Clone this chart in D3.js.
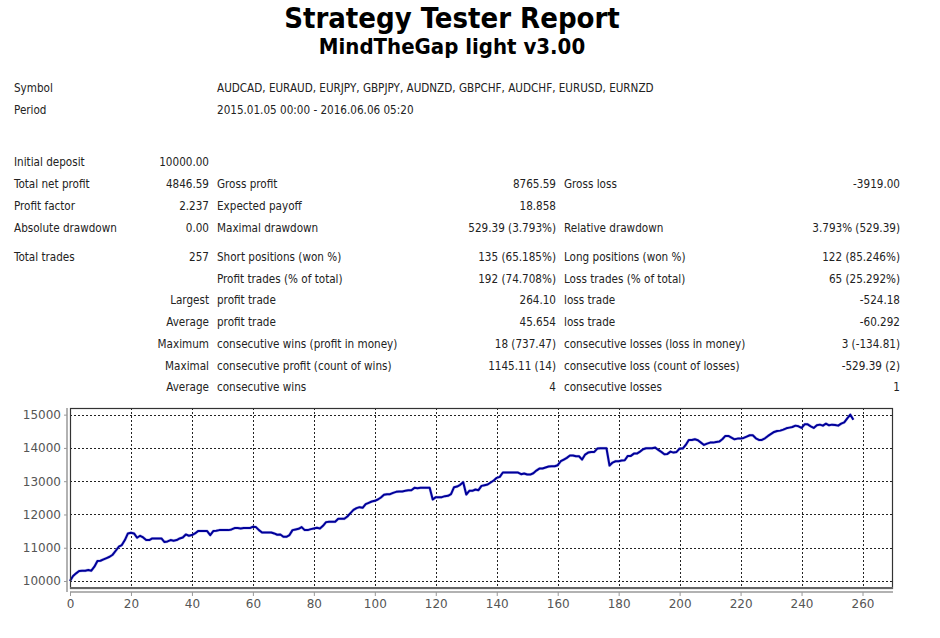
<!DOCTYPE html>
<html>
<head>
<meta charset="utf-8">
<script src="https://cdn.jsdelivr.net/npm/d3@7"></script>
<style>
  body { margin: 0; background: #fff; }
  .tbl text { font-family: "DejaVu Sans Condensed", "DejaVu Sans", sans-serif; font-size: 11.6px; fill: #222; }
  .axis text { font-family: "DejaVu Sans", sans-serif; font-size: 12px; fill: #555; }
  .grid line { stroke: #222; stroke-dasharray: 2,2; stroke-width: 1; }
</style>
</head>
<body>
<svg width="940" height="638"></svg>
<script>
// report header
var title = "Strategy Tester Report";
var subtitle = "MindTheGap light v3.00";

// symbol / period lines
var infoLabels = ["Symbol", "Period"];
var infoValues = ["AUDCAD, EURAUD, EURJPY, GBPJPY, AUDNZD, GBPCHF, AUDCHF, EURUSD, EURNZD",
                  "2015.01.05 00:00 - 2016.06.06 05:20"];

// statistics table, 6 columns per row
var statLabels1 = ["Initial deposit", "Total net profit", "Profit factor", "Absolute drawdown",
                   "Total trades", "", "", "", "", "", ""];
var statValues1 = ["10000.00", "4846.59", "2.237", "0.00", "257", "",
                   "Largest", "Average", "Maximum", "Maximal", "Average"];
var statLabels2 = ["", "Gross profit", "Expected payoff", "Maximal drawdown",
                   "Short positions (won %)", "Profit trades (% of total)", "profit trade", "profit trade",
                   "consecutive wins (profit in money)", "consecutive profit (count of wins)", "consecutive wins"];
var statValues2 = ["", "8765.59", "18.858", "529.39 (3.793%)", "135 (65.185%)", "192 (74.708%)",
                   "264.10", "45.654", "18 (737.47)", "1145.11 (14)", "4"];
var statLabels3 = ["", "Gross loss", "", "Relative drawdown", "Long positions (won %)", "Loss trades (% of total)",
                   "loss trade", "loss trade", "consecutive losses (loss in money)", "consecutive loss (count of losses)",
                   "consecutive losses"];
var statValues3 = ["", "-3919.00", "", "3.793% (529.39)", "122 (85.246%)", "65 (25.292%)",
                   "-524.18", "-60.292", "3 (-134.81)", "-529.39 (2)", "1"];

// balance curve, one value per trade
var balance = [
  10000,10150,10230,10300,10310,10310,10330,10310,10430,10600,
  10610,10650,10690,10730,10790,10910,11030,11080,11230,11430,
  11450,11430,11300,11360,11310,11230,11230,11280,11280,11280,
  11280,11170,11190,11230,11210,11230,11280,11310,11400,11360,
  11380,11430,11500,11500,11500,11500,11380,11500,11510,11530,
  11530,11530,11530,11550,11590,11590,11580,11590,11590,11590,
  11630,11620,11530,11460,11460,11460,11460,11430,11390,11400,
  11330,11330,11380,11530,11550,11570,11620,11530,11530,11560,
  11580,11600,11580,11660,11770,11780,11780,11780,11870,11870,
  11870,11940,12040,12140,12190,12220,12200,12310,12350,12390,
  12410,12450,12510,12590,12610,12610,12650,12680,12690,12690,
  12710,12730,12730,12800,12790,12800,12800,12800,12800,12450,
  12520,12520,12520,12550,12560,12610,12820,12840,12890,12970,
  12600,12710,12710,12750,12730,12860,12880,12900,12960,13020,
  13100,13130,13260,13260,13260,13260,13260,13260,13210,13230,
  13200,13200,13240,13320,13380,13380,13410,13440,13450,13450,
  13480,13600,13650,13700,13770,13770,13750,13750,13650,13800,
  13860,13880,13880,13980,13990,13990,13990,13470,13560,13600,
  13600,13620,13630,13760,13760,13830,13830,13890,13960,13990,
  13990,13990,14010,13940,13880,13810,13820,13890,13860,13880,
  13980,13980,14090,14240,14240,14260,14230,14160,14090,14130,
  14160,14160,14180,14190,14260,14360,14360,14310,14260,14280,
  14280,14300,14340,14380,14380,14290,14240,14240,14290,14360,
  14420,14480,14510,14520,14550,14590,14610,14630,14670,14650,
  14600,14710,14710,14650,14600,14680,14700,14670,14730,14680,
  14700,14690,14670,14730,14770,14890,15000,14846.59
];
var yTicks = [10000, 11000, 12000, 13000, 14000, 15000];
var xTicks = d3.range(0, 261, 20);

function draw() {
  var svg = d3.select("svg");
  var font = "'DejaVu Sans Condensed', 'DejaVu Sans', sans-serif";

  // titles
  svg.append("text")
    .attr("x", 452).attr("y", 28)
    .attr("text-anchor", "middle")
    .style("font-family", font)
    .style("font-weight", "bold").style("font-size", "29px")
    .text(title);
  svg.append("text")
    .attr("x", 452).attr("y", 54)
    .attr("text-anchor", "middle")
    .style("font-family", font)
    .style("font-weight", "bold").style("font-size", "22px")
    .text(subtitle);

  // table
  var tbl = svg.append("g").attr("class", "tbl");
  var colX = [14, 209, 217, 556, 564, 900];
  var anchors = ["start", "end", "start", "end", "start", "end"];

  infoLabels.forEach(function(d, i) {
    var yy = 92 + i * 22;
    tbl.append("text").attr("x", colX[0]).attr("y", yy).text(d);
    tbl.append("text").attr("x", colX[2]).attr("y", yy).text(infoValues[i]);
  });

  // row baselines, with a little gap before "Total trades"
  var rowY = statLabels1.map(function(d, i) {
    return i < 4 ? 166 + i * 22 : 261 + (i - 4) * 21.7;
  });

  var cols = [statLabels1, statValues1, statLabels2, statValues2, statLabels3, statValues3];
  cols.forEach(function(col, c) {
    col.forEach(function(txt, r) {
      if (!txt) return;
      tbl.append("text")
        .attr("x", colX[c]).attr("y", rowY[r])
        .attr("text-anchor", anchors[c])
        .text(txt);
    });
  });

  // chart
  var pLeft = 70, pRight = 893, pTop = 408, pBottom = 588;
  var x = d3.scaleLinear().domain([0, 270]).range([pLeft, pRight]);
  var y = d3.scaleLinear().domain([9790, 15200]).range([pBottom, pTop]);

  var grid = svg.append("g").attr("class", "grid");
  grid.selectAll(".hg").data(yTicks).enter().append("line")
    .attr("x1", pLeft).attr("x2", pRight)
    .attr("y1", function(d) { return Math.round(y(d)) + 0.5; })
    .attr("y2", function(d) { return Math.round(y(d)) + 0.5; });
  grid.selectAll(".vg").data(xTicks.filter(function(d) { return d > 0; })).enter().append("line")
    .attr("y1", pTop).attr("y2", pBottom)
    .attr("x1", function(d) { return Math.round(x(d)) + 0.5; })
    .attr("x2", function(d) { return Math.round(x(d)) + 0.5; });

  // balance line
  var line = d3.line()
    .x(function(d, i) { return x(i); })
    .y(function(d) { return y(d); });
  svg.append("path")
    .datum(balance)
    .attr("fill", "none")
    .attr("stroke", "#8c8ce6")
    .attr("stroke-width", 3)
    .attr("stroke-opacity", 0.5)
    .attr("stroke-linejoin", "round")
    .attr("d", line);
  svg.append("path")
    .datum(balance)
    .attr("fill", "none")
    .attr("stroke", "#00009a")
    .attr("stroke-width", 2)
    .attr("stroke-linejoin", "round")
    .attr("d", line);

  // frame
  svg.append("rect")
    .attr("x", pLeft + 0.5).attr("y", pTop + 0.5)
    .attr("width", pRight - pLeft - 1).attr("height", pBottom - pTop)
    .attr("fill", "none").attr("stroke", "#333").attr("stroke-width", 1.2);
  svg.append("line")
    .attr("x1", pLeft).attr("x2", pRight)
    .attr("y1", pBottom).attr("y2", pBottom)
    .attr("stroke", "#666").attr("stroke-width", 2);

  // axes
  var yAxis = svg.append("g").attr("class", "axis")
    .attr("transform", "translate(" + (pLeft - 3) + ",0)")
    .call(d3.axisLeft(y).tickValues(yTicks).tickSize(3).tickPadding(3).tickFormat(d3.format("d")));
  var xAxis = svg.append("g").attr("class", "axis")
    .attr("transform", "translate(0," + (pBottom + 4) + ")")
    .call(d3.axisBottom(x).tickValues(xTicks).tickSize(4).tickPadding(3).tickFormat(d3.format("d")));
  [yAxis, xAxis].forEach(function(a) {
    a.selectAll("line").attr("stroke", "#999");
    a.select(".domain").attr("stroke", "#999").attr("stroke-width", 1.5);
    a.selectAll("text").style("font-size", "12px").attr("fill", "#555");
  });
  xAxis.select(".domain").attr("d", "M" + pLeft + ",0H" + pRight);
  yAxis.select(".domain").attr("d", "M0," + pTop + "V" + (pBottom + 4));
}
draw();
</script>
</body>
</html>
